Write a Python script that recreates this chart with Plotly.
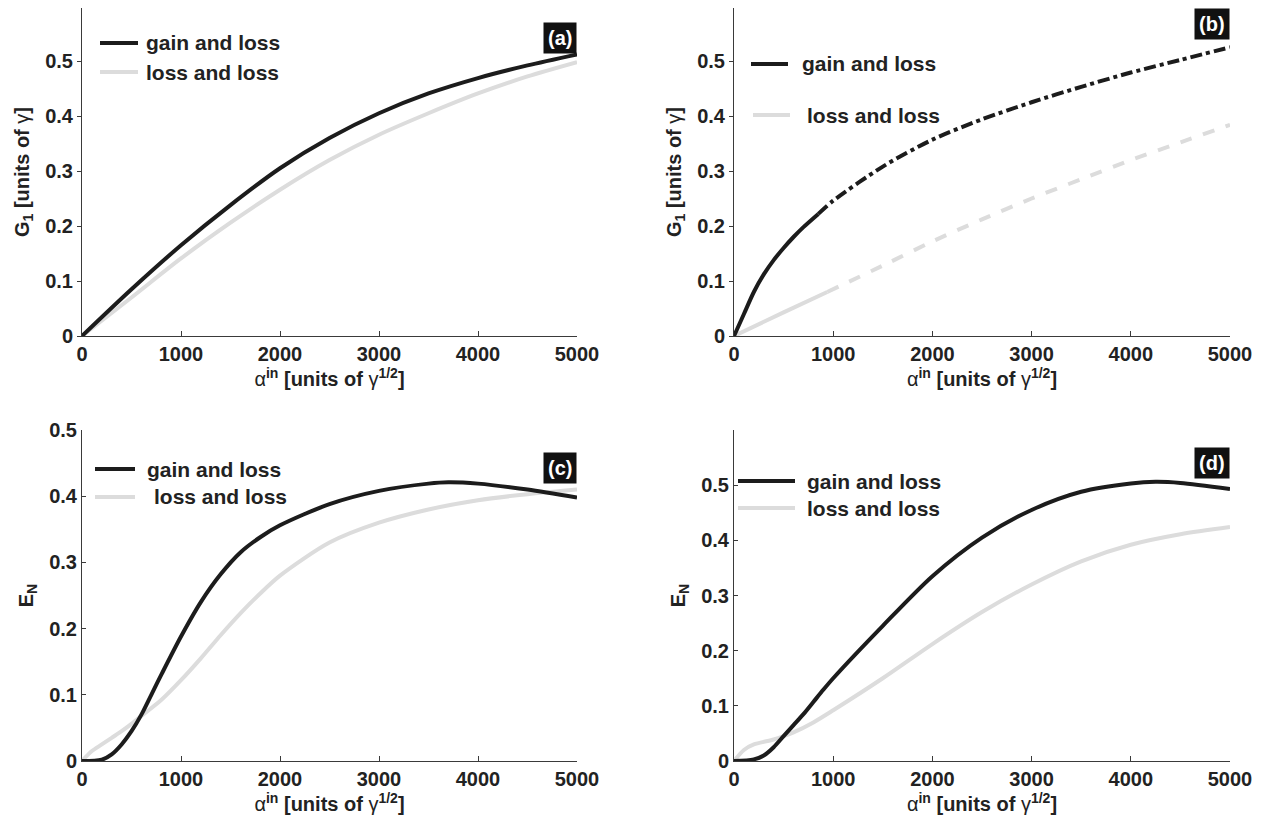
import plotly.graph_objects as go

# the page body keeps its default 8px margin, so the figure is drawn 8px in
OFF = 8
W, H = 1264 - OFF, 821 - OFF
FONT = "Liberation Sans, Arial, Helvetica, sans-serif"
BLACK = "#1c1c1c"
GRAY = "#dcdcdc"
AXIS = "#3a3a3a"
TXT = "#222222"

# ---------------- data ----------------
# (a) G1 vs alpha_in
alpha_a = [0, 500, 1000, 1500, 2000, 2500, 3000, 3500, 4000, 4500, 5000]
a_gain = [0, 0.085, 0.165, 0.238, 0.305, 0.360, 0.405, 0.441, 0.469, 0.492, 0.512]
a_loss = [0, 0.070, 0.141, 0.206, 0.266, 0.320, 0.366, 0.405, 0.441, 0.472, 0.498]

# (b) G1 vs alpha_in (solid part up to the split, broken line afterwards)
alpha_b_gain = [0, 100, 200, 300, 400, 500, 600, 700, 850, 1000, 1500, 2000, 2500, 3000, 3500, 4000, 4500, 5000]
b_gain = [0, 0.040, 0.080, 0.112, 0.138, 0.160, 0.180, 0.198, 0.222, 0.246, 0.308, 0.357, 0.394, 0.425, 0.453, 0.479, 0.502, 0.525]
b_gain_split = 850
alpha_b_loss = [0, 500, 940, 1500, 2000, 2500, 3000, 3500, 4000, 4500, 5000]
b_loss = [0, 0.043, 0.080, 0.128, 0.172, 0.212, 0.250, 0.285, 0.320, 0.352, 0.384]
b_loss_split = 940

# (c) E_N vs alpha_in
alpha_c_gain = [0, 200, 300, 400, 500, 600, 700, 800, 1000, 1200, 1400, 1600, 1800, 2000, 2500, 3000, 3500, 3700, 4000, 4500, 5000]
c_gain = [0, 0.002, 0.010, 0.025, 0.045, 0.070, 0.100, 0.130, 0.188, 0.240, 0.282, 0.315, 0.338, 0.356, 0.388, 0.408, 0.419, 0.421, 0.419, 0.410, 0.398]
alpha_c_loss = [0, 100, 200, 300, 400, 500, 600, 800, 1000, 1200, 1400, 1600, 1800, 2000, 2500, 3000, 3500, 4000, 4500, 5000]
c_loss = [0, 0.015, 0.025, 0.035, 0.045, 0.056, 0.068, 0.092, 0.122, 0.155, 0.190, 0.223, 0.253, 0.280, 0.330, 0.360, 0.380, 0.394, 0.403, 0.410]

# (d) E_N vs alpha_in
alpha_d_gain = [0, 200, 300, 400, 500, 600, 700, 800, 900, 1000, 1500, 2000, 2500, 3000, 3500, 4000, 4250, 4500, 5000]
d_gain = [0, 0.003, 0.010, 0.025, 0.045, 0.065, 0.085, 0.107, 0.129, 0.150, 0.245, 0.335, 0.405, 0.455, 0.488, 0.503, 0.506, 0.504, 0.493]
alpha_d_loss = [0, 100, 200, 400, 500, 600, 800, 1000, 1500, 2000, 2500, 3000, 3500, 4000, 4500, 5000]
d_loss = [0, 0.020, 0.030, 0.039, 0.045, 0.052, 0.070, 0.092, 0.150, 0.212, 0.270, 0.320, 0.362, 0.392, 0.411, 0.424]

x_ticks = [0, 1000, 2000, 3000, 4000, 5000]
y_ticks = [0, 0.1, 0.2, 0.3, 0.4, 0.5]
y_ticktext = ["0", "0.1", "0.2", "0.3", "0.4", "0.5"]
series_names = ["gain and loss", "loss and loss"]
panel_tags = ["(a)", "(b)", "(c)", "(d)"]

# ---------------- helpers (window pixel -> paper fraction) ----------------
def px(x):
    return (x - OFF) / W

def py(y):
    return min(1.0, max(0.0, 1 - (y - OFF) / H))

fig = go.Figure()

def add_line(xs, ys, axis_idx, color, dash="solid"):
    sfx = "" if axis_idx == 1 else str(axis_idx)
    fig.add_trace(go.Scatter(
        x=xs, y=ys, mode="lines", xaxis="x" + sfx, yaxis="y" + sfx,
        line=dict(color=color, width=4, dash=dash, shape="spline", smoothing=0.8),
        showlegend=False, hoverinfo="skip"))

def split(xs, ys, at):
    a = [(x, y) for x, y in zip(xs, ys) if x <= at]
    b = [(x, y) for x, y in zip(xs, ys) if x >= at]
    return [p[0] for p in a], [p[1] for p in a], [p[0] for p in b], [p[1] for p in b]

# (a)
add_line(alpha_a, a_loss, 1, GRAY)
add_line(alpha_a, a_gain, 1, BLACK)
# (b)
x1, y1, x2, y2 = split(alpha_b_loss, b_loss, b_loss_split)
add_line(x1, y1, 2, GRAY)
add_line(x2, y2, 2, GRAY, "dash")
x1, y1, x2, y2 = split(alpha_b_gain, b_gain, b_gain_split)
add_line(x1, y1, 2, BLACK)
add_line(x2, y2, 2, BLACK, "dashdot")
# (c)
add_line(alpha_c_loss, c_loss, 3, GRAY)
add_line(alpha_c_gain, c_gain, 3, BLACK)
# (d)
add_line(alpha_d_loss, d_loss, 4, GRAY)
add_line(alpha_d_gain, d_gain, 4, BLACK)

# ---------------- axes ----------------
xtitle = "α<b><sup>in</sup> [units of </b>γ<b><sup>1/2</sup>]</b>"
g_title = "<b>G<sub>1</sub> [units of </b>γ<b>]</b>"
e_title = "<b>E<sub>N</sub></b>"

panels = [
    dict(xd=(82, 577), yd=(336, 6), yr=0.6, yt=g_title, ytk="outside"),
    dict(xd=(734, 1230), yd=(336, 6), yr=0.6, yt=g_title, ytk="outside"),
    dict(xd=(82, 577), yd=(761, 430), yr=0.5, yt=e_title, ytk="inside"),
    dict(xd=(734, 1230), yd=(761, 430), yr=0.6, yt=e_title, ytk="inside"),
]

tickfont = dict(family=FONT, size=20, color=TXT, weight="bold")
titlefont = dict(family=FONT, size=20, color=TXT)

layout_axes = {}
for i, p in enumerate(panels, start=1):
    sfx = "" if i == 1 else str(i)
    y0, y1 = p["yd"]
    y1c = max(y1, OFF)  # keep the axis inside the page, same pixel scale
    ytop = p["yr"] * (y0 - y1c) / (y0 - y1)
    layout_axes["xaxis" + sfx] = dict(
        domain=[px(p["xd"][0]), px(p["xd"][1])], range=[0, 5000],
        anchor="y" + sfx, showline=True, linecolor=AXIS, linewidth=1,
        ticks="inside", ticklen=5, tickcolor=AXIS, tickwidth=1,
        tickvals=x_ticks, ticktext=[str(v) for v in x_ticks],
        showgrid=False, zeroline=False, tickfont=tickfont, automargin=False,
        title=dict(text=xtitle, font=titlefont, standoff=4), fixedrange=True)
    layout_axes["yaxis" + sfx] = dict(
        domain=[py(y0), py(y1c)], range=[0, ytop],
        anchor="x" + sfx, showline=True, linecolor=AXIS, linewidth=1,
        ticks=p["ytk"], ticklen=4, tickcolor=AXIS, tickwidth=1,
        tickvals=y_ticks, ticktext=y_ticktext,
        showgrid=False, zeroline=False, tickfont=tickfont, automargin=False,
        title=dict(text=p["yt"], font=titlefont, standoff=10), fixedrange=True)

# ---------------- legends (drawn by hand, as in the figure) ----------------
shapes = []
annotations = []
legend_spec = [
    [(100, 138, 43, 144), (100, 138, 72, 144)],
    [(751, 788, 64, 800), (753, 790, 115, 805)],
    [(95, 135, 469, 145), (95, 135, 497, 152)],
    [(738, 795, 481, 805), (738, 795, 508, 805)],
]
for spec in legend_spec:
    for (x0, x1, y, tx), col, name in zip(spec, [BLACK, GRAY], series_names):
        shapes.append(dict(type="line", xref="paper", yref="paper",
                           x0=px(x0), x1=px(x1), y0=py(y), y1=py(y),
                           line=dict(color=col, width=4)))
        annotations.append(dict(text=name, xref="paper", yref="paper",
                                x=px(tx), y=py(y), xanchor="left", yanchor="middle",
                                showarrow=False,
                                font=dict(family=FONT, size=21, color=TXT, weight="bold")))

# panel tags
tag_pos = [(577, 22), (1230, 8), (577, 452), (1230, 447)]
for tag, (x, y) in zip(panel_tags, tag_pos):
    annotations.append(dict(text=tag, xref="paper", yref="paper",
                            x=px(x), y=py(y), xanchor="right", yanchor="top",
                            showarrow=False, bgcolor="#111111", borderpad=4,
                            font=dict(family=FONT, size=20, color="white", weight="bold")))

fig.update_layout(
    width=W, height=H, margin=dict(l=0, r=0, t=0, b=0, autoexpand=False),
    paper_bgcolor="white", plot_bgcolor="white",
    font=dict(family=FONT, color=TXT),
    shapes=shapes, annotations=annotations, showlegend=False,
    **layout_axes)

fig.write_html("out.html")
